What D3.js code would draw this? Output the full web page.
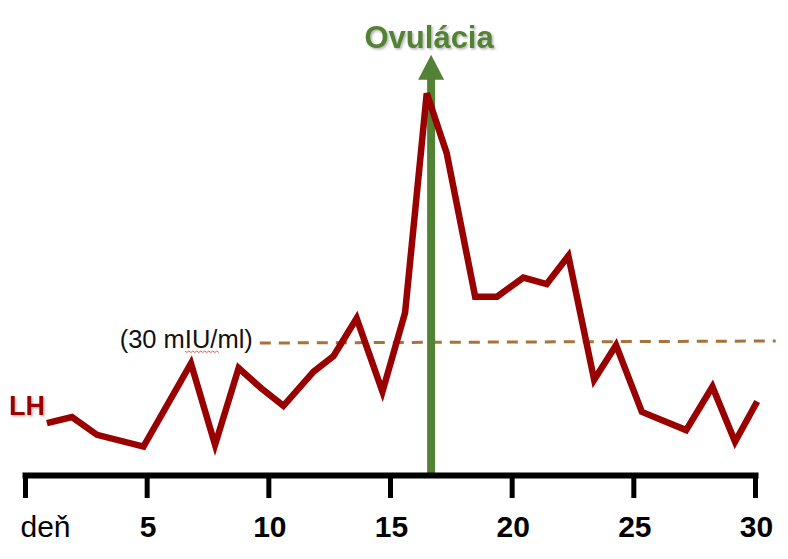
<!DOCTYPE html>
<html>
<head>
<meta charset="utf-8">
<script src="https://cdn.jsdelivr.net/npm/d3@7"></script>
<style>
  html, body { margin: 0; padding: 0; background: #fff; }
  svg { display: block; }
</style>
</head>
<body>
<svg id="chart" width="788" height="559"></svg>
<script>
// ---- data ----
const lhDays = [0.9, 1.93, 2.96, 4.87, 6.82, 7.81, 8.78, 9.72, 10.62, 11.86, 12.68, 13.63, 14.69, 15.62, 16.51, 17.33, 18.5, 19.4, 20.48, 21.44, 22.33, 23.39, 24.29, 25.35, 27.17, 28.25, 29.18, 30.09];
const lhValues = [11.5, 12.9, 8.8, 6.1, 25.3, 6.5, 24.2, 19.5, 15.5, 23.4, 27.0, 35.7, 18.8, 37.0, 87.6, 73.8, 40.7, 40.7, 45.1, 43.6, 50.1, 21.5, 29.5, 14.1, 9.9, 19.9, 7.2, 16.5];
const tickDays = [0, 5, 10, 15, 20, 25, 30];
const tickLabels = ["deň", "5", "10", "15", "20", "25", "30"];
const thresholdValue = 30;
const thresholdRange = [9.65, 30.85];
const thresholdLabel = "(30 mIU/ml)";
const ovulationDay = 16.69;
const ovulationTipValue = 96.5;
const ovulationLabel = "Ovulácia";
const seriesLabel = "LH";

// ---- scales ----
const svg = d3.select("#chart");
const x = d3.scaleLinear().domain([0, 30]).range([25, 755]);
const y = d3.scaleLinear().domain([0, 90]).range([473, 83]);

const RED = "#990000", GREEN = "#538135", BROWN = "#A8733A";

const defs = svg.append("defs");
const f = defs.append("filter").attr("id", "shadow").attr("x", "-20%").attr("y", "-20%").attr("width", "150%").attr("height", "150%");
f.append("feDropShadow").attr("dx", 1.5).attr("dy", 1.5).attr("stdDeviation", 1).attr("flood-color", "#000").attr("flood-opacity", 0.3);

// threshold dashed line
svg.append("line")
  .attr("x1", x(thresholdRange[0])).attr("x2", x(thresholdRange[1]))
  .attr("y1", y(thresholdValue)).attr("y2", y(thresholdValue) - 2)
  .attr("stroke", BROWN).attr("stroke-width", 3)
  .attr("stroke-dasharray", "11,8");

const tl = svg.append("text")
  .attr("x", x(thresholdRange[0]) - 7).attr("y", y(thresholdValue) + 5)
  .attr("text-anchor", "end")
  .attr("font-family", "Liberation Sans, Arial, sans-serif")
  .attr("font-size", 25.5).attr("fill", "#111")
  .text(thresholdLabel);
// spell-check wavy underline under "mIU"
try {
  const node = tl.node();
  const s = node.getStartPositionOfChar(5);
  const e = node.getEndPositionOfChar(7);
  const yy = y(thresholdValue) + 8;
  let p = `M${s.x},${yy}`;
  for (let xx = s.x, k = 0; xx < e.x; xx += 2, k++) p += `L${xx + 2},${yy + (k % 2 ? 0 : 1.5)}`;
  svg.append("path").attr("d", p).attr("fill", "none").attr("stroke", "#e03030").attr("stroke-width", 0.8);
} catch (err) {}

// ovulation arrow
const ax = x(ovulationDay);
const tipY = y(ovulationTipValue);
svg.append("rect")
  .attr("x", ax - 4).attr("width", 8)
  .attr("y", tipY + 24).attr("height", y(0) + 3 - (tipY + 24))
  .attr("fill", GREEN);
svg.append("path")
  .attr("d", `M${ax},${tipY}L${ax + 13},${tipY + 25}L${ax - 13},${tipY + 25}Z`)
  .attr("fill", GREEN);
svg.append("text")
  .attr("x", ax - 2).attr("y", 48)
  .attr("text-anchor", "middle")
  .attr("font-family", "Liberation Sans, Arial, sans-serif")
  .attr("font-weight", "bold").attr("font-size", 31)
  .attr("fill", GREEN).attr("filter", "url(#shadow)")
  .text(ovulationLabel);

// LH line
const line = d3.line().x((d, i) => x(lhDays[i])).y(d => y(d));
svg.append("path")
  .datum(lhValues)
  .attr("d", line)
  .attr("fill", "none")
  .attr("stroke", RED).attr("stroke-width", 6.5)
  .attr("stroke-linejoin", "miter").attr("stroke-miterlimit", 4);

svg.append("text")
  .attr("x", 9).attr("y", 415)
  .attr("font-family", "Liberation Sans, Arial, sans-serif")
  .attr("font-weight", "bold").attr("font-size", 27)
  .attr("fill", RED).attr("filter", "url(#shadow)")
  .text(seriesLabel);

// axis
const axis = d3.axisBottom(x)
  .tickValues(tickDays)
  .tickSize(23).tickSizeOuter(0)
  .tickFormat((d, i) => tickLabels[i]);
const g = svg.append("g").attr("transform", `translate(0,${y(0) + 2})`).call(axis);
g.select(".domain").attr("stroke", "#000").attr("stroke-width", 6).attr("stroke-linecap", "square");
g.selectAll(".tick line").attr("stroke", "#000").attr("stroke-width", 5);
g.selectAll(".tick text")
  .attr("y", 62).attr("dy", 0)
  .attr("fill", "#000")
  .attr("font-family", "Liberation Sans, Arial, sans-serif")
  .attr("font-size", 30)
  .attr("font-weight", (d, i) => i === 0 ? "normal" : "bold")
  .attr("text-anchor", (d, i) => i === 0 ? "start" : "middle")
  .attr("x", (d, i) => i === 0 ? -5 : 1);
</script>
</body>
</html>
